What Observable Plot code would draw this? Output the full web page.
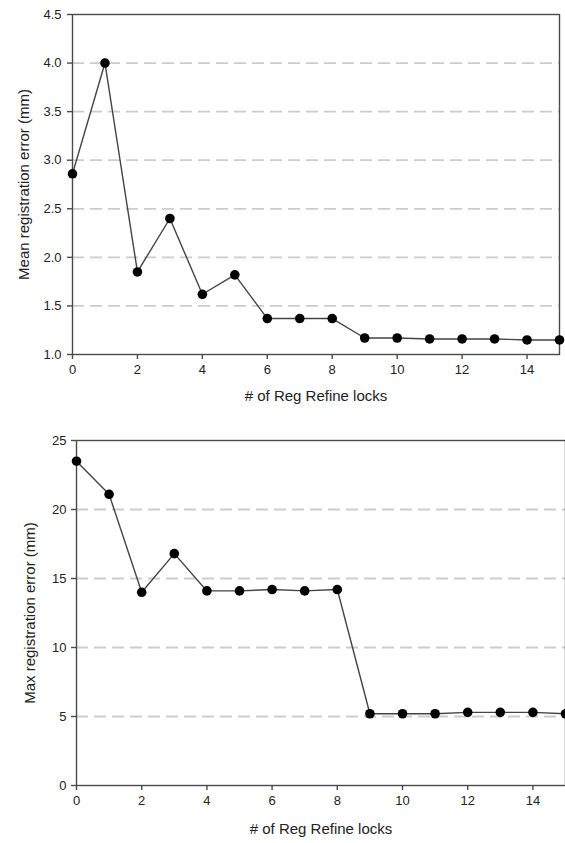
<!DOCTYPE html>
<html>
<head>
<meta charset="utf-8">
<script src="https://cdn.jsdelivr.net/npm/d3@7"></script>
<script src="https://cdn.jsdelivr.net/npm/@observablehq/plot@0.6"></script>
<style>
  html, body { margin: 0; padding: 0; background: #fff; }
  #wrap { width: 565px; height: 843px; overflow: hidden; }
  #wrap svg { display: block; font-family: "Liberation Sans", Arial, sans-serif; }
  #wrap svg g[aria-label="x-axis label"] text,
  #wrap svg g[aria-label="y-axis label"] text { font-size: 15px; fill: #222; }
  #wrap svg g[aria-label="x-axis tick label"] text,
  #wrap svg g[aria-label="y-axis tick label"] text { font-size: 13px; fill: #222; }
</style>
</head>
<body>
<div id="wrap"></div>
<script>
const locks = [0,1,2,3,4,5,6,7,8,9,10,11,12,13,14,15];
const meanError = [2.86,4.0,1.85,2.4,1.62,1.82,1.37,1.37,1.37,1.17,1.17,1.16,1.16,1.16,1.15,1.15];
const maxError = [23.5,21.1,14.0,16.8,14.1,14.1,14.2,14.1,14.2,5.2,5.2,5.2,5.3,5.3,5.3,5.2];
const xTicks = [0,2,4,6,8,10,12,14];
const meanTicks = [1.0,1.5,2.0,2.5,3.0,3.5,4.0,4.5];
const meanGrid = [1.5,2.0,2.5,3.0,3.5,4.0];
const maxTicks = [0,5,10,15,20,25];
const maxGrid = [5,10,15,20];
const xLabel = "# of Reg Refine locks";
const meanLabel = "Mean registration error (mm)";
const maxLabel = "Max registration error (mm)";

const meanData = locks.map((x, i) => ({x, y: meanError[i]}));
const maxData = locks.map((x, i) => ({x, y: maxError[i]}));

function makeChart({data, yDomain, yTicks, grid, yLabel, yFmt, height, mt, mb, ml, mr, xLabelOffset, yLabelOffset, yTickPad}) {
  return Plot.plot({
    width: 565,
    height,
    marginTop: mt,
    marginBottom: mb,
    marginLeft: ml,
    marginRight: mr,
    style: {fontFamily: "Liberation Sans, Arial, sans-serif", fontSize: "13px", color: "#222", background: "#fff", overflow: "visible"},
    x: {domain: [0, 15]},
    y: {domain: yDomain},
    marks: [
      Plot.ruleY(grid, {stroke: "#cccccc", strokeWidth: 1.8, strokeDasharray: "12,6"}),
      Plot.frame({stroke: "#4a4a4a", strokeWidth: 1.4}),
      Plot.axisX({ticks: xTicks, tickFormat: d => String(d), tickSize: 5, tickPadding: 5, stroke: "#4a4a4a", strokeWidth: 1.4, fill: "#222",
        label: xLabel, labelAnchor: "center", labelOffset: xLabelOffset, labelArrow: "none"}),
      Plot.axisY({ticks: yTicks, tickFormat: yFmt, tickSize: 5, tickPadding: yTickPad, stroke: "#4a4a4a", strokeWidth: 1.4, fill: "#222",
        label: yLabel, labelAnchor: "center", labelOffset: yLabelOffset, labelArrow: "none"}),
      Plot.line(data, {x: "x", y: "y", stroke: "#444", strokeWidth: 1.4}),
      Plot.dot(data, {x: "x", y: "y", r: 4.8, fill: "#000", stroke: "none"})
    ]
  });
}

const chartTop = makeChart({
  data: meanData, yDomain: [1.0, 4.5], yTicks: meanTicks, grid: meanGrid, yLabel: meanLabel,
  yFmt: d3.format(".1f"), height: 420, mt: 14, mb: 66, ml: 72, mr: 6,
  xLabelOffset: 46, yLabelOffset: 54, yTickPad: 6
});
const chartBottom = makeChart({
  data: maxData, yDomain: [0, 25], yTicks: maxTicks, grid: maxGrid, yLabel: maxLabel,
  yFmt: d3.format("d"), height: 423, mt: 20, mb: 58, ml: 76, mr: 0,
  xLabelOffset: 48, yLabelOffset: 52, yTickPad: 5
});
const wrap = document.getElementById("wrap");
wrap.appendChild(chartTop);
wrap.appendChild(chartBottom);
</script>
</body>
</html>
